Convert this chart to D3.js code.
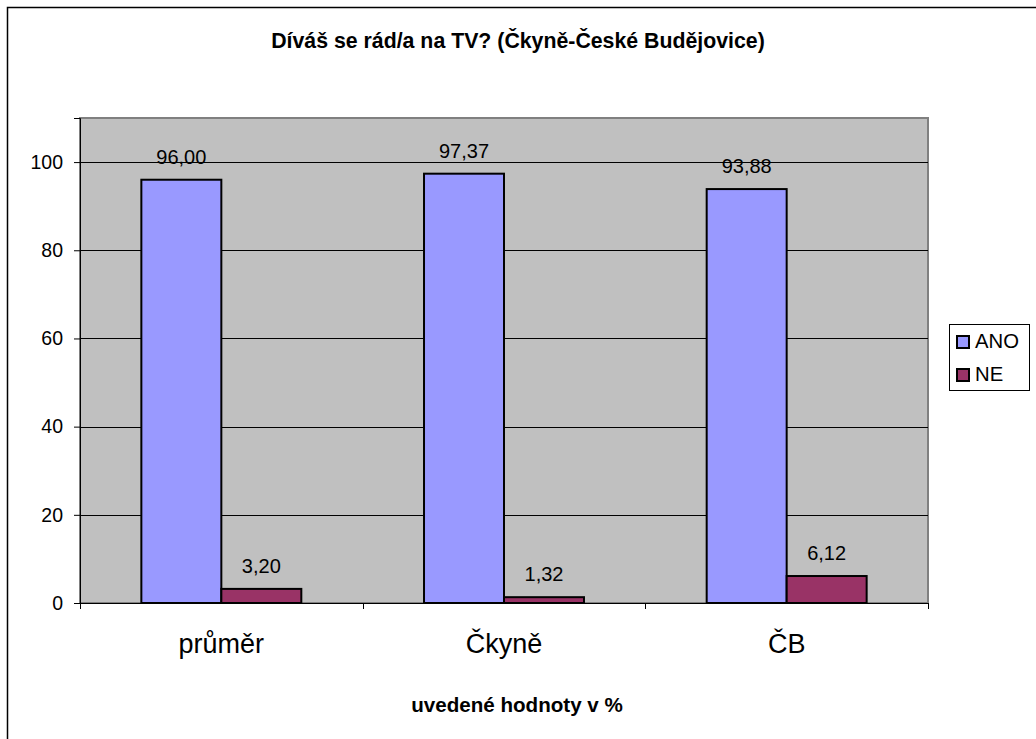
<!DOCTYPE html>
<html>
<head>
<meta charset="utf-8">
<script src="https://cdn.jsdelivr.net/npm/d3@7"></script>
<style>
  html, body { margin: 0; padding: 0; background: #fff; }
  svg { display: block; font-family: Arial, "Liberation Sans", sans-serif; }
</style>
</head>
<body>
<svg id="chart" width="1036" height="739"></svg>
<script>
const title = "Díváš se rád/a na TV? (Čkyně-České Budějovice)";
const xAxisTitle = "uvedené hodnoty v %";
const categories = ["průměr", "Čkyně", "ČB"];
const seriesNames = ["ANO", "NE"];
const ano = [96.00, 97.37, 93.88];
const ne = [3.20, 1.32, 6.12];
const yTicks = [0, 20, 40, 60, 80, 100];
const yMax = 110;
const colors = ["#9999FF", "#993366"];

const values = [ano, ne];
const data = categories.map((c, i) => ({
  cat: c,
  vals: seriesNames.map((s, j) => ({ series: s, value: values[j][i], color: colors[j] }))
}));

const svg = d3.select("#chart");
const plot = { left: 80, right: 928, top: 118, bottom: 603 };

// outer chart border
svg.append("rect")
  .attr("x", 7.5).attr("y", 7.5).attr("width", 1040).attr("height", 745)
  .attr("fill", "#fff").attr("stroke", "#000").attr("stroke-width", 1.5);

const y = d3.scaleLinear().domain([0, yMax]).range([plot.bottom, plot.top]);
const x0 = d3.scaleBand().domain(categories).range([plot.left, plot.right]).padding(0);
const x1 = d3.scaleBand().domain(seriesNames).range([0, x0.bandwidth()])
  .paddingInner(0).paddingOuter(0.767);

// plot area
svg.append("rect")
  .attr("x", plot.left).attr("y", plot.top)
  .attr("width", plot.right - plot.left).attr("height", plot.bottom - plot.top)
  .attr("fill", "#C0C0C0").attr("stroke", "#808080").attr("stroke-width", 2);

// gridlines
svg.append("g").selectAll("line")
  .data(yTicks.filter(t => t > 0))
  .join("line")
  .attr("x1", plot.left).attr("x2", plot.right)
  .attr("y1", d => Math.round(y(d)) + 0.5).attr("y2", d => Math.round(y(d)) + 0.5)
  .attr("stroke", "#000").attr("stroke-width", 1);

// y axis
const yAxis = svg.append("g")
  .attr("transform", `translate(${plot.left},0)`)
  .call(d3.axisLeft(y).tickValues(yTicks).tickSize(6).tickPadding(11).tickFormat(d3.format("d")));
yAxis.select(".domain").attr("stroke", "#000").attr("stroke-width", 1);
yAxis.selectAll(".tick line").attr("stroke", "#000");
yAxis.selectAll(".tick text")
  .attr("font-size", "19.5px").attr("fill", "#000")
  .attr("font-family", 'Arial, "Liberation Sans", sans-serif');

// bars
const groups = svg.append("g").selectAll("g")
  .data(data).join("g")
  .attr("transform", d => `translate(${x0(d.cat)},0)`);

groups.selectAll("rect")
  .data(d => d.vals).join("rect")
  .attr("x", d => x1(d.series))
  .attr("y", d => y(d.value))
  .attr("width", x1.bandwidth())
  .attr("height", d => y(0) - y(d.value))
  .attr("fill", d => d.color)
  .attr("stroke", "#000").attr("stroke-width", 2);

groups.selectAll("text")
  .data(d => d.vals).join("text")
  .attr("x", d => x1(d.series) + x1.bandwidth() / 2)
  .attr("y", d => y(d.value) - 16)
  .attr("text-anchor", "middle")
  .attr("font-size", "20px").attr("fill", "#000")
  .text(d => d.value.toFixed(2).replace(".", ","));

// x axis line
svg.append("line")
  .attr("x1", plot.left).attr("x2", plot.right)
  .attr("y1", plot.bottom + 0.5).attr("y2", plot.bottom + 0.5)
  .attr("stroke", "#000").attr("stroke-width", 1);

// category boundary ticks
const bounds = categories.map(c => x0(c)).concat([plot.right]);
svg.append("g").selectAll("line")
  .data(bounds).join("line")
  .attr("x1", d => Math.round(d) + 0.5).attr("x2", d => Math.round(d) + 0.5)
  .attr("y1", plot.bottom).attr("y2", plot.bottom + 6)
  .attr("stroke", "#000");

// category labels
svg.append("g").selectAll("text")
  .data(categories).join("text")
  .attr("x", d => x0(d) + x0.bandwidth() / 2)
  .attr("y", 653)
  .attr("text-anchor", "middle")
  .attr("font-size", "27px").attr("fill", "#000")
  .text(d => d);

// title
svg.append("text")
  .attr("x", 518).attr("y", 48)
  .attr("text-anchor", "middle")
  .attr("font-size", "21.3px").attr("font-weight", "bold")
  .text(title);

// x axis title
svg.append("text")
  .attr("x", 517).attr("y", 712)
  .attr("text-anchor", "middle")
  .attr("font-size", "20.6px").attr("font-weight", "bold")
  .text(xAxisTitle);

// legend
const legend = svg.append("g");
legend.append("rect")
  .attr("x", 949.5).attr("y", 324.5).attr("width", 80).attr("height", 66)
  .attr("fill", "#fff").attr("stroke", "#000").attr("stroke-width", 1);
const items = legend.selectAll("g")
  .data(seriesNames.map((s, i) => ({ s, c: colors[i] })))
  .join("g")
  .attr("transform", (d, i) => `translate(0,${i * 33})`);
items.append("rect")
  .attr("x", 957).attr("y", 336).attr("width", 12).attr("height", 12)
  .attr("fill", d => d.c).attr("stroke", "#000").attr("stroke-width", 2);
items.append("text")
  .attr("x", 975).attr("y", 348)
  .attr("font-size", "20.3px").attr("fill", "#000")
  .text(d => d.s);
</script>
</body>
</html>
